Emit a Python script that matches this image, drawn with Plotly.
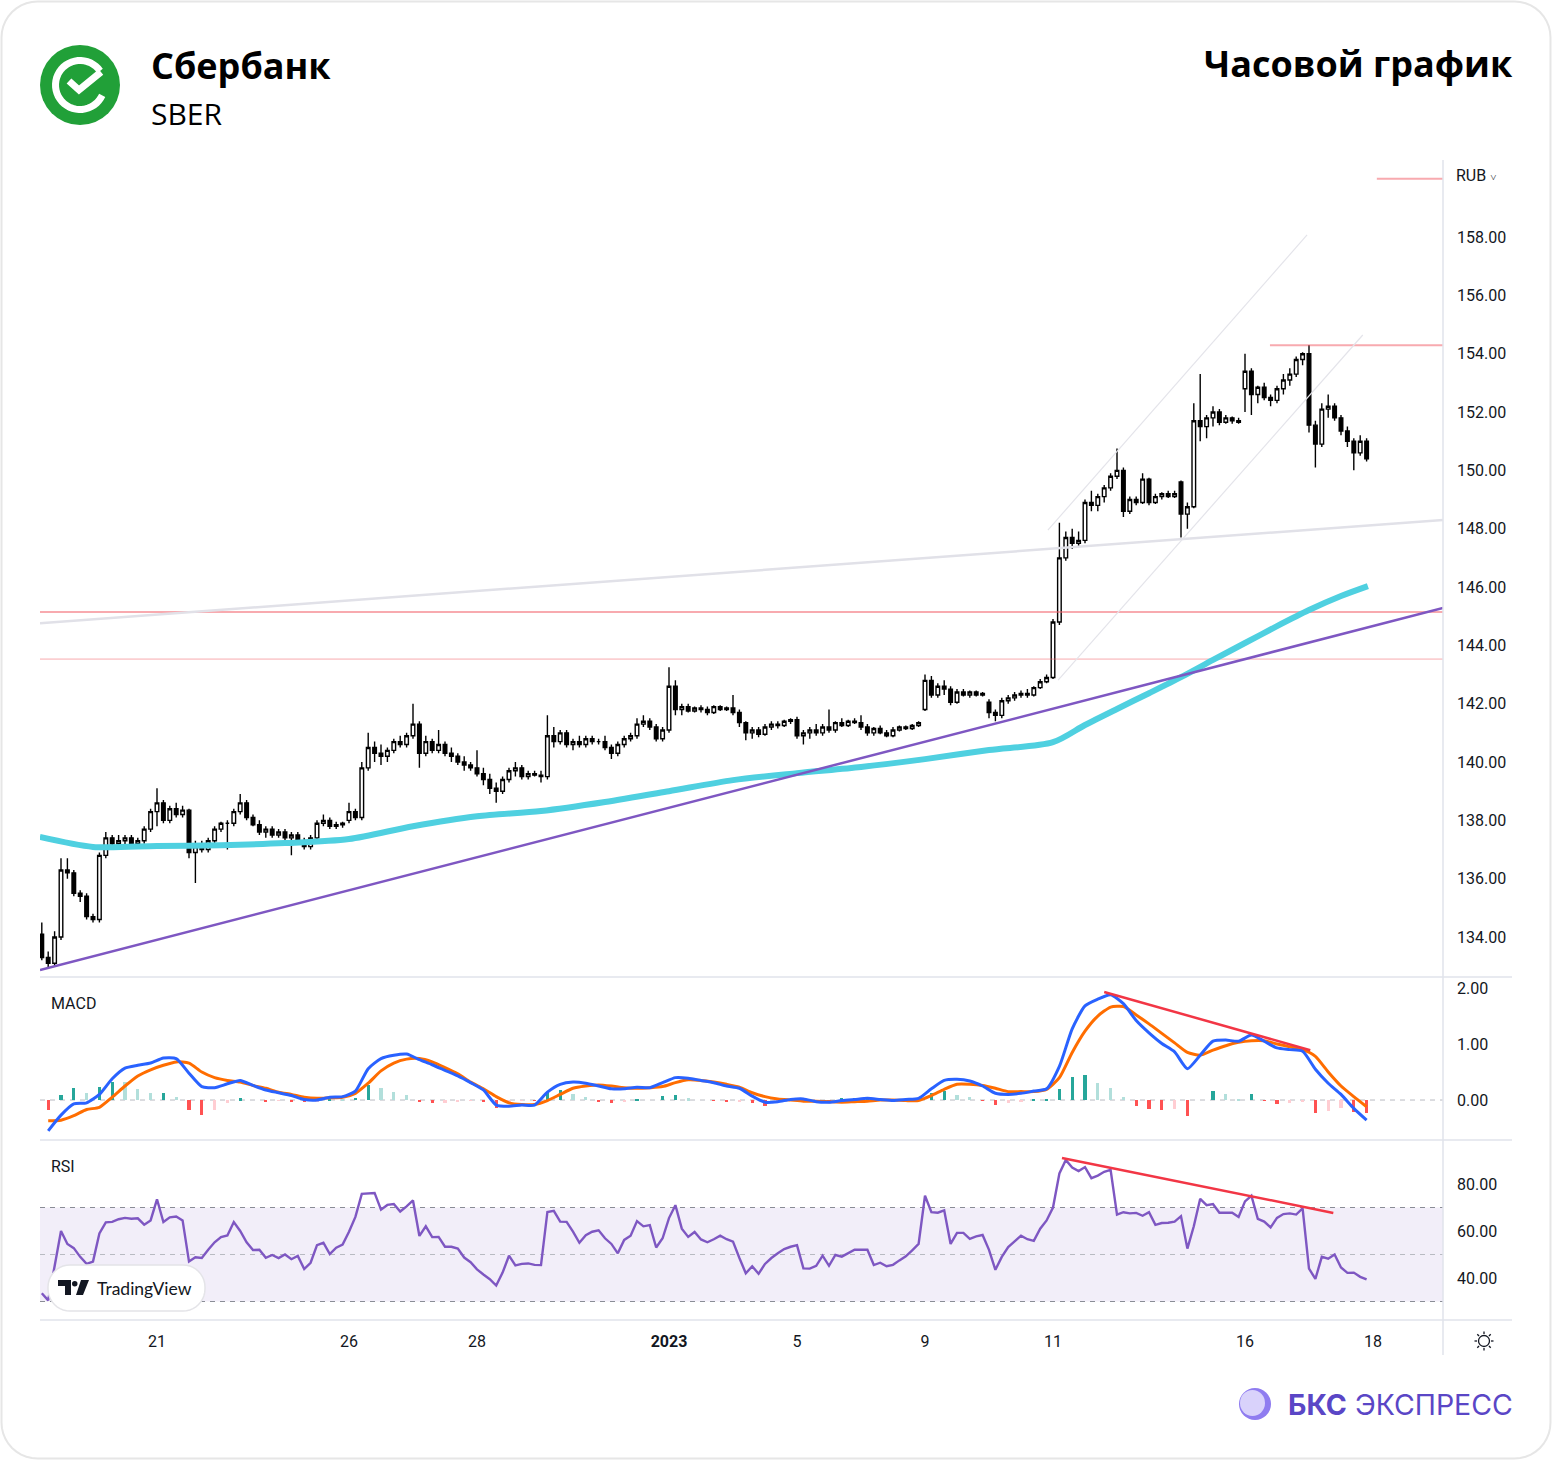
import math
import plotly.graph_objects as go

W, H = 1552, 1460

# ---------------- data ----------------
# x axis: trading-day index (0 = 21 Dec 2022), 10 hourly-ish bars per day
tick_days = [0, 3, 5, 8, 10, 12, 14, 17, 19]
tick_labels = ["21", "26", "28", "<b>2023</b>", "5", "9", "11", "16", "18"]
price_ticks = [134, 136, 138, 140, 142, 144, 146, 148, 150, 152, 154, 156, 158]
macd_ticks = [0, 1, 2]
rsi_ticks = [40, 60, 80]

opens = [
    134.1, 133.3, 133.1, 134.0, 136.3, 136.2, 135.5, 135.4,                      # 19 Dec
    134.7, 134.6, 136.8, 137.4, 137.2, 137.3, 137.4, 137.2, 137.3, 137.7,        # 20 Dec
    138.3, 138.6, 138.0, 138.4, 138.2, 138.35, 136.9, 137.1, 137.0, 137.3,       # 21 Dec
    137.7, 137.9, 137.9, 138.3, 138.6, 138.1, 137.85, 137.6, 137.7, 137.5,       # 22 Dec
    137.6, 137.4, 137.5, 137.3, 137.1, 137.4, 137.9, 138.0, 137.8, 137.85,       # 23 Dec
    138.0, 138.3, 138.1, 139.8, 140.5, 140.3, 140.2, 140.4, 140.7, 140.6,        # 26 Dec
    140.9, 141.3, 140.3, 140.7, 140.4, 140.6, 140.3, 140.2, 140.0, 139.9,        # 27 Dec
    139.8, 139.6, 139.4, 139.1, 139.0, 139.4, 139.7, 139.8, 139.5, 139.6,        # 28 Dec
    139.55, 139.5, 140.9, 140.7, 141.0, 140.6, 140.7, 140.6, 140.8, 140.7,       # 29 Dec
    140.7, 140.5, 140.3, 140.6, 140.8, 140.9, 141.3, 141.4, 141.2, 140.8,        # 30 Dec
    141.1, 142.6, 141.8, 141.9, 141.75, 141.85, 141.8, 141.7, 141.9, 141.8,      # 3 Jan
    141.85, 141.7, 141.35, 141.0, 141.1, 140.95, 141.2, 141.3, 141.25, 141.4,    # 4 Jan
    141.45, 140.9, 141.0, 141.1, 141.0, 141.2, 141.1, 141.35, 141.25, 141.4,     # 5 Jan
    141.35, 141.2, 141.0, 141.15, 141.0, 140.9, 141.1, 141.2, 141.15, 141.25,    # 6 Jan
    141.8, 142.8, 142.3, 142.6, 142.5, 142.05, 142.4, 142.3, 142.4, 142.3,       # 9 Jan
    142.05, 141.7, 141.6, 142.1, 142.2, 142.3, 142.35, 142.3, 142.55, 142.75,    # 10 Jan
    142.9, 144.8, 147.0, 147.7, 147.5, 147.6, 148.9, 148.8, 149.1, 149.4,        # 11 Jan
    149.8, 150.0, 148.6, 149.0, 148.9, 149.7, 148.9, 149.1, 149.2, 149.1,        # 12 Jan
    149.6, 148.5, 148.75, 151.7, 151.5, 151.8, 152.0, 151.65, 151.8, 151.7,      # 13 Jan
    152.8, 153.4, 152.6, 152.85, 152.5, 152.4, 152.8, 153.1, 153.3, 153.8,       # 16 Jan
    154.0, 151.55, 150.9, 152.1, 152.2, 151.8, 151.35, 151.0, 150.6, 151.0,      # 17 Jan
]
highs = [
    134.5, 133.5, 134.2, 136.7, 136.7, 136.3, 135.6, 135.5,
    134.8, 136.9, 137.6, 137.5, 137.5, 137.5, 137.5, 137.4, 137.8, 138.4,
    139.1, 138.7, 138.5, 138.6, 138.5, 138.4, 137.3, 137.3, 137.4, 137.8,
    137.95, 138.0, 138.4, 138.9, 138.7, 138.2, 138.0, 137.8, 137.8, 137.7,
    137.7, 137.6, 137.6, 137.4, 137.5, 138.0, 138.2, 138.1, 137.95, 137.95,
    138.6, 138.4, 140.0, 141.0, 140.7, 140.6, 140.5, 140.8, 140.9, 141.0,
    142.0, 141.4, 140.9, 140.8, 141.1, 140.7, 140.5, 140.3, 140.2, 140.0,
    140.4, 139.8, 139.6, 139.3, 139.5, 139.8, 140.0, 139.9, 139.7, 139.7,
    139.7, 141.6, 141.2, 141.1, 141.1, 140.8, 140.9, 140.9, 140.9, 140.8,
    140.9, 140.6, 140.7, 140.9, 141.0, 141.5, 141.6, 141.5, 141.3, 141.2,
    143.25, 142.8, 142.0, 142.0, 141.9, 141.95, 141.9, 141.95, 141.95, 141.9,
    142.3, 141.8, 141.4, 141.2, 141.2, 141.3, 141.4, 141.4, 141.45, 141.5,
    141.55, 141.1, 141.2, 141.3, 141.3, 141.8, 141.4, 141.5, 141.45, 141.5,
    141.6, 141.3, 141.2, 141.25, 141.1, 141.2, 141.25, 141.25, 141.3, 141.4,
    143.0, 142.95, 142.7, 142.8, 142.6, 142.5, 142.5, 142.45, 142.45, 142.4,
    142.15, 141.8, 142.2, 142.3, 142.4, 142.45, 142.5, 142.6, 142.85, 143.0,
    144.9, 148.2, 147.9, 148.0, 147.9, 149.0, 149.3, 149.2, 149.5, 149.9,
    150.75, 150.1, 149.1, 149.1, 149.9, 149.75, 149.2, 149.25, 149.3, 149.3,
    149.65, 148.9, 152.3, 153.3, 151.9, 152.2, 152.1, 151.9, 151.85, 151.8,
    154.0, 153.5, 152.9, 153.0, 152.6, 152.9, 153.3, 153.5, 153.9, 154.05,
    154.3, 151.7, 152.3, 152.6, 152.3, 151.9, 151.5, 151.1, 151.2, 151.1,
]
lows = [
    133.2, 132.9, 133.0, 133.9, 136.0, 135.4, 135.2, 134.6,
    134.5, 134.5, 136.7, 137.0, 137.1, 137.1, 137.1, 137.1, 137.2, 137.6,
    137.8, 137.9, 137.9, 138.1, 138.1, 136.7, 135.85, 136.9, 136.9, 137.2,
    137.6, 137.0, 137.8, 138.2, 138.0, 137.8, 137.5, 137.4, 137.4, 137.4,
    137.3, 136.8, 137.2, 137.0, 137.0, 137.3, 137.8, 137.7, 137.7, 137.75,
    137.9, 138.0, 138.0, 139.7, 140.0, 139.9, 140.0, 140.3, 140.5, 140.5,
    140.8, 139.8, 140.2, 140.3, 140.3, 140.2, 140.0, 139.9, 139.7, 139.7,
    139.5, 139.2, 138.9, 138.6, 138.9, 139.3, 139.5, 139.4, 139.4, 139.5,
    139.3, 139.4, 140.5, 140.6, 140.5, 140.4, 140.5, 140.5, 140.6, 140.6,
    140.4, 140.1, 140.2, 140.5, 140.7, 140.8, 141.2, 141.1, 140.7, 140.7,
    141.0, 141.6, 141.6, 141.7, 141.7, 141.7, 141.6, 141.65, 141.75, 141.75,
    141.6, 141.2, 140.75, 140.8, 140.85, 140.9, 141.1, 141.15, 141.2, 141.3,
    140.8, 140.6, 140.8, 140.9, 140.9, 141.0, 141.0, 141.2, 141.2, 141.3,
    141.1, 140.9, 140.9, 140.95, 140.85, 140.85, 141.05, 141.1, 141.1, 141.2,
    141.75, 142.2, 142.2, 142.3, 141.95, 142.0, 142.25, 142.2, 142.25, 142.25,
    141.5, 141.4, 141.5, 142.0, 142.1, 142.2, 142.2, 142.25, 142.5, 142.7,
    142.85, 144.7, 146.9, 147.3, 147.4, 147.5, 148.6, 148.6, 148.9, 149.3,
    149.7, 148.4, 148.5, 148.8, 148.85, 148.8, 148.85, 149.0, 149.05, 149.05,
    147.7, 148.0, 148.7, 151.0, 151.1, 151.5, 151.55, 151.6, 151.6, 151.6,
    152.0, 151.9, 152.3, 152.4, 152.2, 152.3, 152.6, 152.9, 153.2, 153.6,
    151.3, 150.1, 150.8, 151.8, 151.7, 151.2, 150.8, 150.0, 150.5, 150.3,
]
closes = [
    133.3, 133.1, 134.0, 136.3, 136.2, 135.5, 135.4, 134.7,
    134.6, 136.8, 137.4, 137.2, 137.3, 137.4, 137.2, 137.3, 137.7, 138.3,
    138.6, 138.0, 138.4, 138.2, 138.35, 136.9, 137.1, 137.0, 137.3, 137.7,
    137.9, 137.9, 138.3, 138.6, 138.1, 137.85, 137.6, 137.7, 137.5, 137.6,
    137.4, 137.5, 137.3, 137.1, 137.4, 137.9, 138.0, 137.8, 137.85, 137.9,
    138.3, 138.1, 139.8, 140.5, 140.3, 140.2, 140.4, 140.7, 140.6, 140.9,
    141.3, 140.3, 140.7, 140.4, 140.6, 140.3, 140.2, 140.0, 139.9, 139.8,
    139.6, 139.4, 139.1, 139.0, 139.4, 139.7, 139.8, 139.5, 139.6, 139.55,
    139.5, 140.9, 140.7, 141.0, 140.6, 140.7, 140.6, 140.8, 140.7, 140.7,
    140.5, 140.3, 140.6, 140.8, 140.9, 141.3, 141.4, 141.2, 140.8, 141.1,
    142.6, 141.8, 141.9, 141.75, 141.85, 141.8, 141.7, 141.9, 141.8, 141.85,
    141.7, 141.35, 141.0, 141.1, 140.95, 141.2, 141.3, 141.25, 141.4, 141.45,
    140.9, 141.0, 141.1, 141.0, 141.2, 141.1, 141.35, 141.25, 141.4, 141.35,
    141.2, 141.0, 141.15, 141.0, 140.9, 141.1, 141.2, 141.15, 141.25, 141.35,
    142.8, 142.3, 142.6, 142.5, 142.05, 142.4, 142.3, 142.4, 142.3, 142.35,
    141.7, 141.6, 142.1, 142.2, 142.3, 142.35, 142.3, 142.55, 142.75, 142.9,
    144.8, 147.0, 147.7, 147.5, 147.6, 148.9, 148.8, 149.1, 149.4, 149.8,
    150.0, 148.6, 149.0, 148.9, 149.7, 148.9, 149.1, 149.2, 149.1, 149.2,
    148.5, 148.75, 151.7, 151.5, 151.8, 152.0, 151.65, 151.8, 151.7, 151.65,
    153.4, 152.6, 152.85, 152.5, 152.4, 152.8, 153.1, 153.3, 153.8, 154.0,
    151.55, 150.9, 152.1, 152.2, 151.8, 151.35, 151.0, 150.6, 151.0, 150.4,
]

# moving average (cyan) read at day marks
ma_days = [-1.83, -1, 0, 1, 2, 3, 4, 5, 6, 7, 8, 9, 10, 11, 12, 13, 14, 14.5, 15,
           15.5, 16, 16.5, 17, 17.5, 18, 18.5, 18.92]
ma_vals = [137.43, 137.09, 137.12, 137.15, 137.22, 137.36, 137.80, 138.14, 138.32,
           138.63, 139.00, 139.38, 139.62, 139.83, 140.10, 140.41, 140.68, 141.27,
           141.82, 142.36, 142.91, 143.50, 144.08, 144.66, 145.21, 145.69, 146.03]

# MACD (every second bar)
macd_vals = [
    -0.55, -0.27, -0.07, -0.05,
    0.10, 0.38, 0.57, 0.62, 0.66,
    0.75, 0.74, 0.48, 0.24, 0.22,
    0.29, 0.35, 0.26, 0.18, 0.13,
    0.08, 0.01, 0.00, 0.05, 0.06,
    0.16, 0.56, 0.74, 0.80, 0.82,
    0.72, 0.63, 0.53, 0.43, 0.31,
    0.18, -0.09, -0.11, -0.09, -0.09,
    0.14, 0.28, 0.32, 0.30, 0.25,
    0.20, 0.20, 0.23, 0.22, 0.31,
    0.40, 0.39, 0.35, 0.31, 0.25,
    0.21, 0.07, -0.04, -0.03, 0.01,
    0.02, -0.03, -0.04, -0.01, 0.01,
    0.03, 0.01, -0.01, 0.01, 0.03,
    0.20, 0.35, 0.37, 0.34, 0.25,
    0.12, 0.10, 0.12, 0.16, 0.20,
    0.60, 1.27, 1.68, 1.80, 1.88,
    1.72, 1.42, 1.20, 1.01, 0.86,
    0.56, 0.80, 1.05, 1.07, 1.05,
    1.16, 1.05, 0.93, 0.90, 0.87,
    0.55, 0.30, 0.10, -0.15, -0.36,
]
signal_vals = [
    -0.37, -0.36, -0.28, -0.17,
    -0.13, 0.05, 0.25, 0.43, 0.54,
    0.62, 0.68, 0.66, 0.50, 0.40,
    0.35, 0.32, 0.26, 0.21, 0.14,
    0.10, 0.05, 0.03, 0.04, 0.05,
    0.12, 0.30, 0.52, 0.66, 0.73,
    0.74, 0.68, 0.58, 0.47, 0.32,
    0.20, 0.06, -0.05, -0.08, -0.08,
    -0.01, 0.10, 0.21, 0.25, 0.27,
    0.25, 0.22, 0.21, 0.22, 0.24,
    0.31, 0.36, 0.35, 0.32, 0.28,
    0.23, 0.13, 0.06, 0.02, 0.00,
    -0.02, -0.02, -0.03, -0.04, -0.03,
    -0.02, 0.00, 0.00, -0.01, -0.01,
    0.08, 0.19, 0.28, 0.28, 0.26,
    0.21, 0.15, 0.15, 0.15, 0.19,
    0.40, 0.85, 1.23, 1.50, 1.66,
    1.67, 1.52, 1.36, 1.19, 1.02,
    0.85, 0.80, 0.89, 0.97, 1.03,
    1.06, 1.06, 1.00, 0.95, 0.90,
    0.78, 0.50, 0.25, 0.06, -0.12,
]

# RSI per bar
rsi_vals = [
    33.5, 30.5, 45, 60, 54.5, 52.7, 49, 46,
    47, 59, 63.7, 63.9, 65, 65.6, 65.2, 65.4, 62.7, 64.5,
    73.5, 63.8, 65.8, 66.2, 64.5, 47, 48.8, 48.5, 52, 55.2,
    57.4, 58.1, 63.8, 60, 55.2, 51.9, 52, 48.6, 49.8, 48.5,
    50, 48, 49.4, 43.8, 46.5, 54, 55, 50.2, 52.9, 54.2,
    59.7, 66, 75.8, 76.1, 76.2, 69.1, 71.1, 71.5, 68.3, 70.5,
    73, 57.9, 62, 57.4, 57.5, 53.3, 53.3, 52.5, 48.7, 46.7,
    43.7, 41.5, 39.5, 36.8, 42.3, 49.5, 45.4, 46, 46.2, 45.6,
    45.5, 68.1, 68.6, 64, 63.9, 59.7, 55, 58.2, 59.7, 60.3,
    56.9, 54.5, 50.5, 56.2, 58, 64.2, 62, 62.5, 53, 56.9,
    65.5, 71, 61, 57.5, 59.6, 56.4, 55.2, 56.5, 58, 56.5,
    55.5, 48.5, 42, 45, 41.8, 46, 48.5, 50.5, 52.3, 53.3,
    54, 44.1, 44, 45.2, 49.5, 45.2, 49.8, 49.1, 50.5, 52,
    52, 52, 45.5, 46.5, 45, 45.6, 47.5, 49.2, 51.8, 54.5,
    75, 68, 67.8, 68.8, 54.5, 59.2, 59.2, 56.7, 57.7, 58.3,
    52, 43.5, 49, 53.2, 55.6, 58, 56.5, 55.8, 61, 64.5,
    70, 84.5, 90.2, 87, 85.5, 87.2, 82.5, 83.6, 85.2, 86,
    67, 68, 67.5, 67.7, 66.5, 68, 62.6, 63.4, 63.5, 64,
    66.3, 52.5, 62, 73.7, 71, 71.5, 67.8, 67.8, 67.8, 66,
    72.6, 75, 65.2, 64, 61.5, 65.6, 67.2, 67.5, 67, 69.6,
    44, 39.6, 49, 48.2, 50, 44.5, 42.2, 42.3, 40.5, 39.4,
]

# drawn lines (day index, value)
support_days, support_prices = [-1.828, 20.094], [132.87, 145.28]
upper_days, upper_prices = [-1.828, 20.094], [144.76, 148.30]
chan_a_days, chan_a_prices = [13.92, 17.97], [147.95, 158.07]
chan_b_days, chan_b_prices = [14.08, 18.84], [142.81, 154.64]
level_full = [145.14, 143.53]
level_res_day, level_res = 17.39, 154.29
level_top_day, level_top = 19.06, 160.0
macd_div_days, macd_div_vals = [14.80, 18.02], [1.93, 0.89]
rsi_div_days, rsi_div_vals = [14.14, 18.38], [91.1, 67.7]

# ---------------- geometry helpers ----------------
X_LEFT_PX, X_RIGHT_PX = 40, 1443
DAY0_PX, DAY_PX = 157, 64
x_min = (X_LEFT_PX - DAY0_PX) / DAY_PX
x_max = (X_RIGHT_PX - DAY0_PX) / DAY_PX


def px(x):
    return x / W


def py(y):
    return 1 - y / H


bar_x = []
for d in range(-2, 19):
    for k in range(10):
        if d == -2 and k < 2:
            continue
        bar_x.append(d + k / 10)
assert len(bar_x) == len(opens) == len(highs) == len(lows) == len(closes) == len(rsi_vals)
macd_x = bar_x[1::2]
assert len(macd_x) == len(macd_vals) == len(signal_vals)

hist = [m - s for m, s in zip(macd_vals, signal_vals)]
hist_colors = []
prev = 0
for h in hist:
    if h >= 0:
        hist_colors.append('#26a69a' if h >= prev else '#b2dfdb')
    else:
        hist_colors.append('#ff5252' if h <= prev else '#ffcdd2')
    prev = h

fig = go.Figure()

# ---- price pane ----
PINK = 'rgba(242,100,110,0.55)'
fig.add_trace(go.Scatter(x=[x_min, x_max], y=[level_full[0]] * 2, mode='lines',
                         line=dict(color=PINK, width=2), hoverinfo='skip'))
fig.add_trace(go.Scatter(x=[x_min, x_max], y=[level_full[1]] * 2, mode='lines',
                         line=dict(color=PINK, width=1), hoverinfo='skip'))
fig.add_trace(go.Scatter(x=[level_res_day, x_max], y=[level_res] * 2, mode='lines',
                         line=dict(color=PINK, width=2), hoverinfo='skip'))
fig.add_trace(go.Scatter(x=[level_top_day, x_max], y=[level_top] * 2, mode='lines',
                         line=dict(color=PINK, width=2), hoverinfo='skip', cliponaxis=False))
fig.add_trace(go.Scatter(x=upper_days, y=upper_prices, mode='lines',
                         line=dict(color='#e1e1e8', width=2.5), hoverinfo='skip'))
fig.add_trace(go.Scatter(x=chan_a_days, y=chan_a_prices, mode='lines',
                         line=dict(color='#e4e4ea', width=1.2), hoverinfo='skip'))
fig.add_trace(go.Scatter(x=chan_b_days, y=chan_b_prices, mode='lines',
                         line=dict(color='#e4e4ea', width=1.2), hoverinfo='skip'))
fig.add_trace(go.Scatter(x=ma_days, y=ma_vals, mode='lines',
                         line=dict(color='#4fd0e0', width=6, shape='spline', smoothing=0.8),
                         hoverinfo='skip'))
fig.add_trace(go.Scatter(x=support_days, y=support_prices, mode='lines',
                         line=dict(color='#7e57c2', width=2.5), hoverinfo='skip'))
fig.add_trace(go.Candlestick(
    x=bar_x, open=opens, high=highs, low=lows, close=closes,
    increasing=dict(line=dict(color='#000000', width=1.4), fillcolor='#ffffff'),
    decreasing=dict(line=dict(color='#000000', width=1.4), fillcolor='#000000'),
    whiskerwidth=0, hoverinfo='skip'))

# ---- MACD pane ----
fig.add_trace(go.Bar(x=macd_x, y=hist, marker=dict(color=hist_colors, line=dict(width=0)),
                     width=0.05, yaxis='y2', hoverinfo='skip'))
fig.add_trace(go.Scatter(x=macd_x, y=signal_vals, mode='lines', yaxis='y2',
                         line=dict(color='#ff6d00', width=3, shape='spline', smoothing=0.6),
                         hoverinfo='skip'))
fig.add_trace(go.Scatter(x=macd_x, y=macd_vals, mode='lines', yaxis='y2',
                         line=dict(color='#2962ff', width=3, shape='spline', smoothing=0.6),
                         hoverinfo='skip'))
fig.add_trace(go.Scatter(x=macd_div_days, y=macd_div_vals, mode='lines', yaxis='y2',
                         line=dict(color='#f23645', width=2.5), hoverinfo='skip'))

# ---- RSI pane ----
fig.add_trace(go.Scatter(x=bar_x, y=rsi_vals, mode='lines', yaxis='y3',
                         line=dict(color='#7e57c2', width=2.4), hoverinfo='skip'))
fig.add_trace(go.Scatter(x=rsi_div_days, y=rsi_div_vals, mode='lines', yaxis='y3',
                         line=dict(color='#f23645', width=2.5), hoverinfo='skip'))

# ---------------- layout ----------------
TICK_FONT = dict(family='Roboto, Liberation Sans, sans-serif', size=16, color='#131722')
shapes = []
# RSI band + guide lines
shapes.append(dict(type='rect', xref='x domain', yref='y3', x0=0, x1=1, y0=30, y1=70,
                   fillcolor='rgba(126,87,194,0.10)', line=dict(width=0), layer='below'))
for lvl, col in [(70, '#8a8d96'), (50, '#b8bac2'), (30, '#8a8d96')]:
    shapes.append(dict(type='line', xref='x domain', yref='y3', x0=0, x1=1, y0=lvl, y1=lvl,
                       line=dict(color=col, width=1, dash='5px,5px'), layer='below'))
shapes.append(dict(type='line', xref='x domain', yref='y2', x0=0, x1=1, y0=0, y1=0,
                   line=dict(color='#b8bac2', width=1, dash='5px,5px'), layer='below'))
# pane separators and right axis line
for yy in (977, 1140, 1320):
    shapes.append(dict(type='line', xref='paper', yref='paper', x0=px(40), x1=px(1512),
                       y0=py(yy), y1=py(yy), line=dict(color='#e0e3eb', width=1.5)))
shapes.append(dict(type='line', xref='paper', yref='paper', x0=px(1443), x1=px(1443),
                   y0=py(160), y1=py(1355), line=dict(color='#e0e3eb', width=1.5)))

# card border (rounded rectangle)
def rrect(x0, y0, x1, y1, r, n=10):
    pts = []
    corners = [(x1 - r, y0 + r, -90, 0), (x1 - r, y1 - r, 0, 90),
               (x0 + r, y1 - r, 90, 180), (x0 + r, y0 + r, 180, 270)]
    for cx, cy, a0, a1 in corners:
        for i in range(n + 1):
            a = math.radians(a0 + (a1 - a0) * i / n)
            pts.append((cx + r * math.cos(a), cy + r * math.sin(a)))
    return 'M ' + ' L '.join(f'{px(a):.5f},{py(b):.5f}' for a, b in pts) + ' Z'


shapes.append(dict(type='path', xref='paper', yref='paper', path=rrect(1.5, 1.5, 1550.5, 1458.5, 36),
                   line=dict(color='#e6e6e6', width=2), layer='below'))
# TradingView badge
shapes.append(dict(type='path', xref='paper', yref='paper', path=rrect(48, 1265, 205, 1311, 22),
                   fillcolor='#ffffff', line=dict(color='#e4e4e8', width=1.5)))
# TradingView glyph
shapes.append(dict(type='path', xref='paper', yref='paper',
                   path=f'M {px(58)},{py(1280)} L {px(71)},{py(1280)} L {px(71)},{py(1295)} '
                        f'L {px(65)},{py(1295)} L {px(65)},{py(1286)} L {px(58)},{py(1286)} Z',
                   fillcolor='#131722', line=dict(width=0)))
shapes.append(dict(type='circle', xref='paper', yref='paper', x0=px(72), x1=px(77.5),
                   y0=py(1286.5), y1=py(1281), fillcolor='#131722', line=dict(width=0)))
shapes.append(dict(type='path', xref='paper', yref='paper',
                   path=f'M {px(81)},{py(1280)} L {px(89)},{py(1280)} L {px(83)},{py(1295)} '
                        f'L {px(76)},{py(1295)} Z',
                   fillcolor='#131722', line=dict(width=0)))

# Sber logo
cx, cy, R = 80, 85, 40
shapes.append(dict(type='circle', xref='paper', yref='paper', x0=px(cx - R), x1=px(cx + R),
                   y0=py(cy + R), y1=py(cy - R), fillcolor='#21a038', line=dict(width=0)))
arc = []
for i in range(41):
    a = math.radians(-35 - 300 * i / 40)
    arc.append((cx + 24.5 * math.cos(a), cy + 24.5 * math.sin(a)))
shapes.append(dict(type='path', xref='paper', yref='paper',
                   path='M ' + ' L '.join(f'{px(a):.5f},{py(b):.5f}' for a, b in arc),
                   line=dict(color='#ffffff', width=7)))
shapes.append(dict(type='path', xref='paper', yref='paper',
                   path=f'M {px(69)},{py(81)} L {px(79)},{py(90)} L {px(101)},{py(72)}',
                   line=dict(color='#ffffff', width=7)))

# BKS logo sphere
shapes.append(dict(type='circle', xref='paper', yref='paper', x0=px(1239), x1=px(1271),
                   y0=py(1420), y1=py(1388), fillcolor='#8f7cf0', line=dict(width=0)))
shapes.append(dict(type='circle', xref='paper', yref='paper', x0=px(1240), x1=px(1265),
                   y0=py(1416), y1=py(1390), fillcolor='#d9d2fb', line=dict(width=0)))
# settings (sun) icon
gx, gy = 1484, 1341
shapes.append(dict(type='circle', xref='paper', yref='paper', x0=px(gx - 5.5), x1=px(gx + 5.5),
                   y0=py(gy + 5.5), y1=py(gy - 5.5), line=dict(color='#131722', width=1.3)))
for i in range(8):
    a = math.radians(45 * i)
    shapes.append(dict(type='line', xref='paper', yref='paper',
                       x0=px(gx + 7 * math.cos(a)), x1=px(gx + 9.5 * math.cos(a)),
                       y0=py(gy + 7 * math.sin(a)), y1=py(gy + 9.5 * math.sin(a)),
                       line=dict(color='#131722', width=1.3)))


def note(text, x, y, xanchor, size, family, color='#000000'):
    return dict(text=text, x=px(x), y=py(y), xref='paper', yref='paper', xanchor=xanchor,
                yanchor='middle', showarrow=False, font=dict(family=family, size=size, color=color))


annotations = [
    note('<b>Сбербанк</b>', 149, 66, 'left', 36, 'Open Sans'),
    note('SBER', 149, 114, 'left', 30, 'Open Sans'),
    note('<b>Часовой график</b>', 1515, 63, 'right', 36, 'Open Sans'),
    note('MACD', 49, 1003, 'left', 16, 'Roboto', '#131722'),
    note('RSI', 49, 1166, 'left', 16, 'Roboto', '#131722'),
    note("RUB <span style='font-size:11px'>˅</span>", 1454, 175, 'left', 16, 'Roboto', '#131722'),
    note('TradingView', 95, 1288, 'left', 17.5, 'Lato', '#131722'),
    note("<b>БКС</b> ЭКСПРЕСС", 1515, 1404, 'right', 28.5, 'Inter', '#5a46c6'),
]

fig.update_layout(
    width=W, height=H, autosize=False,
    margin=dict(l=0, r=0, t=0, b=0),
    paper_bgcolor='#ffffff', plot_bgcolor='rgba(0,0,0,0)',
    showlegend=False, boxgap=0.2, bargap=0,
    shapes=shapes, annotations=annotations,
    xaxis=dict(domain=[px(X_LEFT_PX), px(X_RIGHT_PX)], range=[x_min, x_max], anchor='y3',
               tickvals=tick_days, ticktext=tick_labels, ticks='', showgrid=False,
               zeroline=False, showline=False, rangeslider=dict(visible=False),
               tickfont=TICK_FONT, ticklabelstandoff=10, fixedrange=True),
    yaxis=dict(domain=[py(977), py(160)], range=[132.63, 160.64], side='right', anchor='x',
               tickvals=price_ticks, ticktext=[f'{v:.2f}' for v in price_ticks], ticks='',
               showgrid=False, zeroline=False, showline=False, tickfont=TICK_FONT,
               ticklabelstandoff=13),
    yaxis2=dict(domain=[py(1140), py(978)], range=[-0.714, 2.179], side='right', anchor='x',
                tickvals=macd_ticks, ticktext=[f'{v:.2f}' for v in macd_ticks], ticks='',
                showgrid=False, zeroline=False, showline=False, tickfont=TICK_FONT,
                ticklabelstandoff=13),
    yaxis3=dict(domain=[py(1320), py(1141)], range=[22.13, 98.3], side='right', anchor='x',
                tickvals=rsi_ticks, ticktext=[f'{v:.2f}' for v in rsi_ticks], ticks='',
                showgrid=False, zeroline=False, showline=False, tickfont=TICK_FONT,
                ticklabelstandoff=13),
)

fig.write_html('out.html', config={'displayModeBar': False},
               post_script="document.body.style.margin='0';document.body.style.overflow='hidden';")
